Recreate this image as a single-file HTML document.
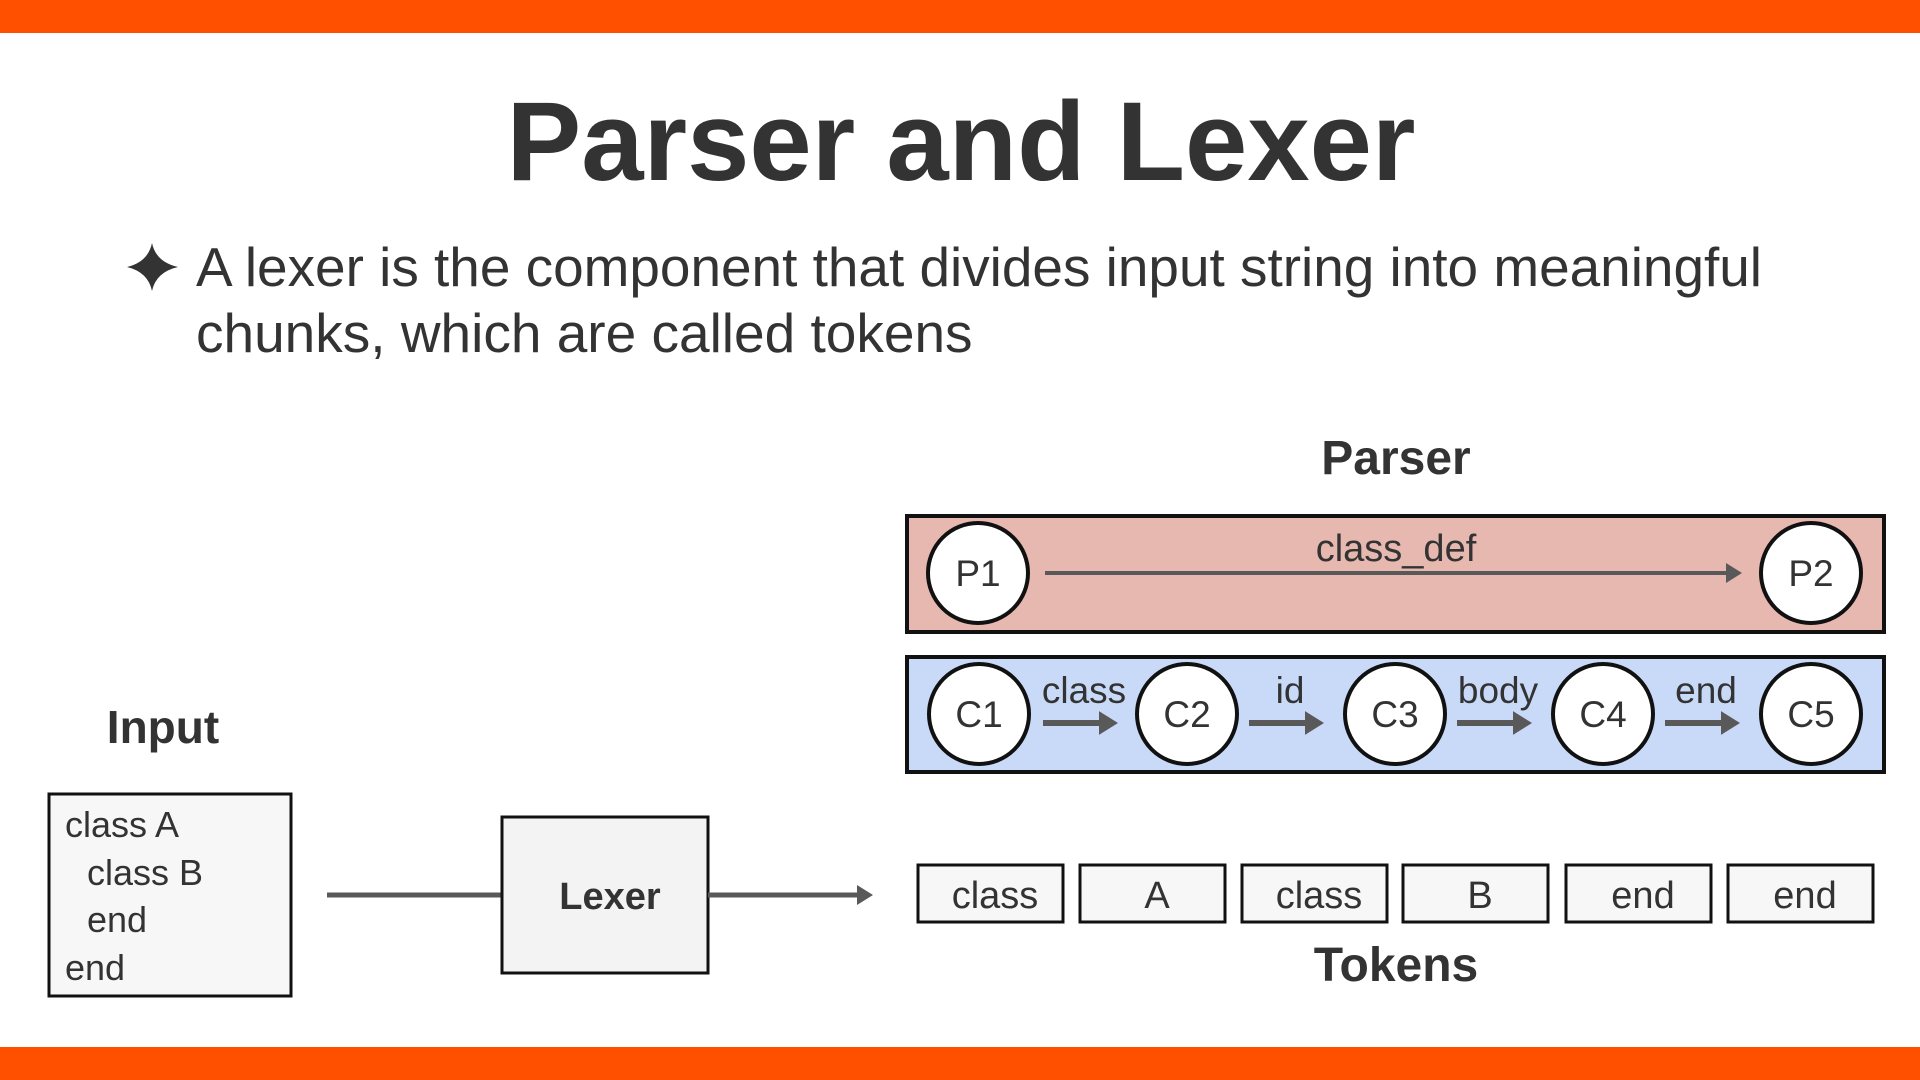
<!DOCTYPE html>
<html><head><meta charset="utf-8"><style>
html,body{margin:0;padding:0;background:#fff;}
svg{display:block;font-family:"Liberation Sans",Arial,sans-serif;}
</style></head><body>
<svg width="1920" height="1080" viewBox="0 0 1920 1080" xmlns="http://www.w3.org/2000/svg">
<defs>
<marker id="ah" markerWidth="4" markerHeight="4" refX="2.2" refY="2" orient="auto" markerUnits="strokeWidth"><path d="M0,0 L3.2,2 L0,4 z" fill="#595959"/></marker>
<marker id="ah2" markerWidth="5" markerHeight="5" refX="3" refY="2.5" orient="auto" markerUnits="strokeWidth"><path d="M0,0 L4,2.5 L0,5 z" fill="#595959"/></marker>
</defs>
<rect x="0" y="0" width="1920" height="33" fill="#ff5000"/>
<rect x="0" y="1047" width="1920" height="33" fill="#ff5000"/>
<text x="961" y="180" text-anchor="middle" font-size="112" font-weight="bold" fill="#333">Parser and Lexer</text>
<path d="M152,243 Q156,262 178,267 Q156,272 152,291 Q148,272 127,267 Q148,262 152,243 z" fill="#333"/>
<text x="196" y="286" font-size="55" fill="#333" textLength="1566" lengthAdjust="spacingAndGlyphs">A lexer is the component that divides input string into meaningful</text>
<text x="196" y="352" font-size="55" fill="#333">chunks, which are called tokens</text>

<text x="1396" y="474" text-anchor="middle" font-size="48" font-weight="bold" fill="#333">Parser</text>
<rect x="907" y="516" width="977" height="116" fill="#e6b8af" stroke="#111" stroke-width="4"/>
<line x1="1045" y1="573" x2="1738" y2="573" stroke="#595959" stroke-width="4" marker-end="url(#ah2)"/>
<text x="1396" y="561" text-anchor="middle" font-size="38" fill="#333">class_def</text>
<circle cx="978" cy="573" r="50" fill="#fff" stroke="#111" stroke-width="4"/>
<text x="978" y="586" text-anchor="middle" font-size="37" fill="#333">P1</text>
<circle cx="1811" cy="573" r="50" fill="#fff" stroke="#111" stroke-width="4"/>
<text x="1811" y="586" text-anchor="middle" font-size="37" fill="#333">P2</text>

<rect x="907" y="657" width="977" height="115" fill="#c9daf8" stroke="#111" stroke-width="4"/>
<g stroke="#595959" stroke-width="6">
<line x1="1043" y1="723" x2="1112" y2="723" marker-end="url(#ah)"/>
<line x1="1249" y1="723" x2="1318" y2="723" marker-end="url(#ah)"/>
<line x1="1457" y1="723" x2="1526" y2="723" marker-end="url(#ah)"/>
<line x1="1665" y1="723" x2="1734" y2="723" marker-end="url(#ah)"/>
</g>
<g font-size="37" fill="#333" text-anchor="middle">
<text x="1084" y="703">class</text>
<text x="1290" y="703">id</text>
<text x="1498" y="703">body</text>
<text x="1706" y="703">end</text>
</g>
<g fill="#fff" stroke="#111" stroke-width="4">
<circle cx="979" cy="714" r="50"/><circle cx="1187" cy="714" r="50"/><circle cx="1395" cy="714" r="50"/><circle cx="1603" cy="714" r="50"/><circle cx="1811" cy="714" r="50"/>
</g>
<g font-size="37" fill="#333" text-anchor="middle">
<text x="979" y="727">C1</text><text x="1187" y="727">C2</text><text x="1395" y="727">C3</text><text x="1603" y="727">C4</text><text x="1811" y="727">C5</text>
</g>

<text x="163" y="743" text-anchor="middle" font-size="46" font-weight="bold" fill="#333">Input</text>
<rect x="49" y="794" width="242" height="202" fill="#f7f7f7" stroke="#111" stroke-width="3"/>
<g font-size="36" fill="#333">
<text x="65" y="837">class A</text>
<text x="87" y="885">class B</text>
<text x="87" y="932">end</text>
<text x="65" y="980">end</text>
</g>
<line x1="327" y1="895" x2="502" y2="895" stroke="#595959" stroke-width="5"/>
<rect x="502" y="817" width="206" height="156" fill="#f3f3f3" stroke="#111" stroke-width="3"/>
<text x="610" y="909" text-anchor="middle" font-size="38" font-weight="bold" fill="#333">Lexer</text>
<line x1="708" y1="895" x2="868" y2="895" stroke="#595959" stroke-width="5" marker-end="url(#ah)"/>

<g fill="#f7f7f7" stroke="#111" stroke-width="3">
<rect x="918" y="865" width="145" height="57"/><rect x="1080" y="865" width="145" height="57"/><rect x="1242" y="865" width="145" height="57"/><rect x="1403" y="865" width="145" height="57"/><rect x="1566" y="865" width="145" height="57"/><rect x="1728" y="865" width="145" height="57"/>
</g>
<g font-size="38" fill="#333" text-anchor="middle">
<text x="995" y="908">class</text><text x="1157" y="908">A</text><text x="1319" y="908">class</text><text x="1480" y="908">B</text><text x="1643" y="908">end</text><text x="1805" y="908">end</text>
</g>
<text x="1396" y="981" text-anchor="middle" font-size="48" font-weight="bold" fill="#333">Tokens</text>
</svg>
</body></html>
